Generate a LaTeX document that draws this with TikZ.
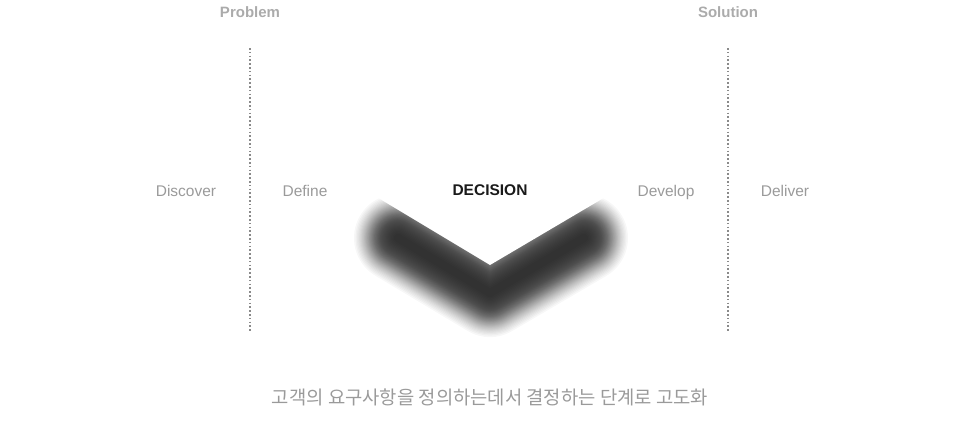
\documentclass[tikz,border=0pt]{standalone}
\usepackage{fontspec}
\setmainfont{Liberation Sans}
\newfontfamily\kofont{Noto Sans CJK KR}
\definecolor{lbl}{HTML}{9A9A9A}
\definecolor{hdr}{HTML}{ABABAB}
\definecolor{dots}{HTML}{8A8A8A}
\definecolor{ink}{HTML}{1A1A1A}
\tikzset{
  phase/.style={font=\fontsize{15.5}{18}\selectfont, text=lbl, inner sep=0pt, anchor=base},
  head/.style={font=\fontsize{15}{17}\selectfont\bfseries, text=hdr, inner sep=0pt, anchor=base},
  divider/.style={draw=dots, line width=1.3pt, dash pattern=on 1.6pt off 2.2pt},
}
\begin{document}
\begin{tikzpicture}[x=1pt,y=-1pt]
\useasboundingbox (0,0) rectangle (978,439);
% blurred V shadow
\coordinate (vl) at (398,238);
\coordinate (vb) at (490,293);
\coordinate (vr) at (584,238);
\foreach \k in {0,...,50}{
  \pgfmathsetmacro{\t}{2*\k/50-1}
  \pgfmathsetmacro{\w}{48+28*tan(55*\t)}
  \draw[black, opacity=0.033, line width=\w pt, line cap=round, line join=round] (vl) -- (vb) -- (vr);
}
% white cover above the V edge
\coordinate (el) at (375,196);
\coordinate (eb) at (490,265);
\coordinate (er) at (607,196);
\fill[white] (330,169) -- (el) -- (eb) -- (er) -- (650,170) -- (650,120) -- (330,120) -- cycle;
% dividers
\coordinate (d1t) at (250,48);
\coordinate (d1b) at (250,332);
\coordinate (d2t) at (728,48);
\coordinate (d2b) at (728,332);
\draw[divider] (d1t) -- (d1b);
\draw[divider] (d2t) -- (d2b);
% headers
\node[head] (problem) at (250,17) {Problem};
\node[head] (solution) at (728,17) {Solution};
% phases
\node[phase] (discover) at (186,196.5) {Discover};
\node[phase] (define) at (305,196.5) {Define};
\node[phase, font=\fontsize{15.5}{18}\selectfont\bfseries, text=ink] (decision) at (490,195.5) {DECISION};
\node[phase] (develop) at (666,196.5) {Develop};
\node[phase] (deliver) at (785,196.5) {Deliver};
% caption
\node[font=\kofont\fontsize{18.8}{22}\selectfont, text=lbl, inner sep=0pt, anchor=base] (caption) at (490,404) {고객의 요구사항을 정의하는데서 결정하는 단계로 고도화};
\end{tikzpicture}
\end{document}
